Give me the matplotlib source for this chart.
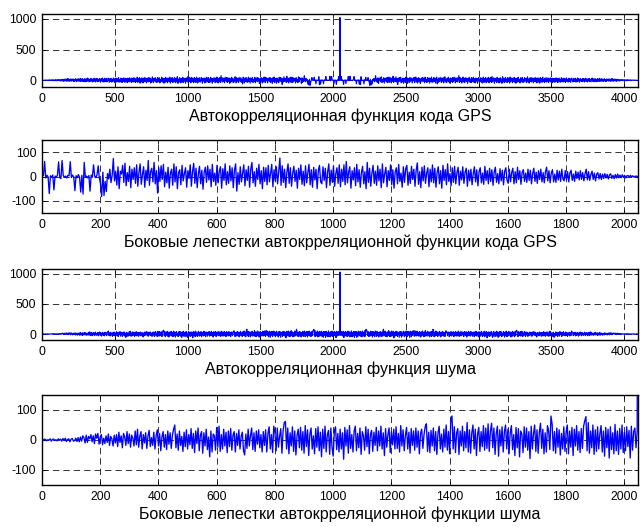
import numpy as np

import matplotlib
matplotlib.use('Agg')
import matplotlib.pyplot as plt

plt.rcParams['font.family'] = ['Liberation Sans', 'DejaVu Sans']
plt.rcParams['axes.unicode_minus'] = False
plt.rcParams['lines.scale_dashes'] = False

# Sidelobes of the GPS code autocorrelation, lags 1..2045 (every 4th lag)
gps_side = [
    4, 3, 62, -6, 5, -2, -70, 3, -4, 6, -55, 2, -3, 5, 60, -5,
    -8, 66, 4, -3, 2, -6, 5, 3, 61, -4, 6, -2, -58, 3, -5, 8,
    -3, -64, 5, -72, 58, -4, 2, -6, 4, -60, 6, -3, 48, 2, -5, 7,
    44, -6, -30, -82, 18, -78, -20, -62, 12, -10, 30, -25, 5, 74, -18, 22,
    -35, 40, -50, 22, 10, 46, -24, 55, -38, 16, -20, 42, -46, 30, -12, 36,
    -28, 48, -40, 18, 52, -32, 8, 40, -44, 26, -16, 66, -36, 20, 34, -22,
    58, -30, 24, -68, 36, -20, 44, -12, 50, -42, 18, -26, 38, -48, 14, 30,
    -36, 52, -22, 40, -50, 16, 28, -34, 46, -18, 12, 36, -44, 24, -8, 48,
    -40, 20, 54, -28, 34, -46, 10, 42, -30, 26, -52, 18, 38, -24, 44, -14,
    30, -42, 50, -20, 14, -36, 46, -26, 22, 40, -48, 32, -16, 52, -34, 20,
    -28, 44, -18, 36, -46, 26, 52, -60, 16, -32, 40, -22, 12, 48, -38, 28,
    -16, 42, -44, 30, 58, -26, 20, -40, 34, -12, 50, -30, 24, -50, 38, -20,
    36, -34, 46, -22, 12, 50, -42, 28, -18, 40, -30, 20, 76, -36, 44, -24,
    30, -46, 18, 52, -28, 36, -40, 14, 42, -20, 26, -48, 34, -12, 48, -32,
    22, -38, 44, -26, 16, 50, -34, 28, -44, 38, -14, 30, -50, 24, 46, -22,
    -30, 40, -16, 34, -46, 20, 52, -36, 26, -24, 44, -40, 12, 36, -28, 48,
    -42, 30, -20, 48, -34, 62, -26, 18, 40, -48, 24, -14, 36, -38, 50, -22,
    28, -44, 16, 42, -30, 20, -50, 58, -24, 34, -40, 14, 46, -28, 22, -36,
    44, -18, 30, -46, 52, -26, 12, 38, -42, 24, -16, 48, -34, 28, -48, 20,
    36, -30, 50, -20, 14, -44, 40, -24, 32, 46, -36, 18, -28, 42, -12, 30,
    -40, 26, 56, -32, 20, -46, 38, -18, 44, -28, 14, 36, -42, 30, -22, 48,
    -26, 34, -44, 18, 40, -30, 24, -48, 46, -16, 28, -34, 52, -20, 12, -38,
    36, -24, 42, -30, 16, 38, -36, 22, -14, 40, -28, 18, 34, -40, 26, -18,
    30, -34, 12, 40, -22, 28, -38, 20, 36, -26, 14, -32, 42, -16, 24, -30,
    34, -20, 28, -36, 18, 38, -24, 12, -30, 32, -18, 26, -34, 22, 36, -14,
    -28, 30, -22, 16, 34, -30, 20, -26, 38, -12, 24, -32, 18, 28, -20, 14,
    -24, 30, -16, 26, -30, 12, 34, -20, 18, -28, 24, -12, 30, -22, 16, -26,
    20, 38, -18, 24, -26, 14, 28, -22, 10, -24, 26, -14, 22, -20, 30, -10,
    -18, 24, -12, 20, -22, 14, 26, -16, 10, -20, 22, -8, 18, -14, 24, -12,
    16, -18, 12, 30, -14, 20, -16, 8, 22, -12, 14, -18, 10, 16, -10, 12,
    -12, 10, -8, 12, -6, 9, -10, 7, 11, -8, 5, -9, 8, -6, 10, -5,
    6, -5, 7, -4, 5, -6, 3, 4, -3, 5, -2, 3, -2, 1, 2, 0,
]
gps_peak = 1023

# Sidelobes of the noise autocorrelation, lags -2048..-4 (every 4th lag)
noise_side = [
    1, -2, 3, 2, -3, 1, -1, 4, -4, 2, 3, -2, 1, -3, 4, -1,
    3, -4, 5, -2, 6, -5, 2, 4, -6, 3, 5, -4, -2, 6, -5, 8,
    -6, 10, -4, 14, 8, -10, 16, -8, 12, 4, 18, -6, 14, -12, 20, 6,
    22, -14, 10, 18, -16, 6, -12, 14, -8, 20, -18, 12, 4, -20, 16, -10,
    18, -22, 26, -8, 14, -26, 22, 10, -18, 28, -12, 20, -24, 16, 6, -20,
    30, -16, 36, -24, 12, 28, -30, 18, -10, 24, -28, 14, 32, -22, 8, -18,
    26, -30, 14, 34, -20, 22, -36, 10, 28, -24, 18, -32, 30, -14, 24, -28,
    16, 36, 50, -26, 20, -34, 30, -18, 12, -38, 26, -22, 34, -30, 18, -16,
    38, -28, 22, -42, 30, -12, 40, -36, 16, 28, -44, 24, -20, 36, -32, 10,
    -56, 30, -40, 20, 14, -34, 42, -24, 46, -38, 18, -30, 36, -20, 26, -42,
    30, -22, 38, -34, 16, 28, -40, 22, -18, 34, -30, 12, 26, -36, -50, 20,
    -28, 36, -20, 14, 40, -32, 24, -38, 30, -14, 34, -26, 18, -40, 28, -18,
    34, -40, 22, 44, -30, 18, -42, 46, 26, -36, 40, -24, 12, 38, -44, 30,
    58, 62, -30, 40, -46, 24, -20, 44, -38, 30, -50, 16, 36, -26, 42, -34,
    28, -44, 48, -22, 34, -52, 20, 40, -30, 14, -46, 38, -24, 44, -36, 26,
    -56, 36, -28, 46, -40, 18, 32, -48, 40, -24, -54, 30, 44, -32, 22, -40,
    36, -30, 24, -64, 42, -20, 34, -44, 48, -28, 18, -40, 30, 46, -36, 22,
    -26, 40, -48, 28, 14, -34, 44, -22, 36, -46, 20, 32, -38, 26, -18, 42,
    -36, 30, -20, 46, -30, 24, -52, 38, -24, 18, 40, -42, 28, -16, 36, -30,
    44, -28, 22, -40, 48, -20, 34, -36, 16, 42, -30, 26, -44, 38, -18, 30,
    -34, 40, -24, 30, -46, 22, 36, -28, 18, 44, 54, -38, 26, -42, 32, -20,
    40, -36, 28, -48, 24, 46, -30, 20, -40, 36, -24, 50, -34, 28, -46, 66,
    80, -30, 44, -42, 24, 38, -48, 30, -20, 46, -36, 28, -26, 58, -40, 34,
    -44, 24, 50, -30, 36, -52, 20, 42, -38, 28, -22, 48, -34, 40, -28, 54,
    -38, 30, 56, -26, 40, -48, 22, 46, -54, 34, -20, 44, -40, 28, 50, -30,
    36, -46, 24, 48, -32, 18, -52, 42, -26, 38, -56, 30, 20, -42, 44, -24,
    40, -34, 28, -62, 46, -30, 22, 50, -38, 34, -44, 26, 56, -28, 36, -46,
    24, -40, 48, 30, -32, 80, 52, -36, 28, -44, 40, -24, 34, -50, 22, -30,
    44, -38, 26, 50, -46, 30, -24, 42, -52, 36, -20, 48, -34, 28, -42, 38,
    -28, 46, 64, 78, -36, 58, -44, 30, -26, 50, -48, 34, -38, 44, -30, 22,
    48, -40, 30, -54, 42, -26, 36, -60, 44, -32, 24, -46, 52, -36, 30, -48,
    38, -30, 50, -42, 26, -36, 44, -22, 32, -60, 46, -34, 28, 40, -26, 30,
]
noise_peak = 1030

titles = [
    'Автокорреляционная функция кода GPS',
    'Боковые лепестки автокрреляционной функции кода GPS',
    'Автокорреляционная функция шума',
    'Боковые лепестки автокрреляционной функции шума',
]

N = 2048
center = N - 1
step = 4


def style_ax(ax, xlim, ylim, xticks, yticks, title):
    ax.set_xlim(*xlim)
    ax.set_ylim(*ylim)
    ax.set_xticks(xticks)
    ax.set_yticks(yticks)
    ax.grid(True, color='0.2', lw=0.7, linestyle=(0, (4.6, 2.9)))
    ax.set_axisbelow(True)
    ax.tick_params(direction='in', top=True, right=True, length=3,
                   width=0.6, labelsize=8.8, pad=4)
    for s in ax.spines.values():
        s.set_linewidth(1.0)
    ax.set_xlabel(title, fontsize=11.5, labelpad=3)


def plot_all():
    g = np.array(gps_side, dtype=float)
    n = np.array(noise_side, dtype=float)
    lags = np.arange(1, N, step)
    pos = np.arange(0, N, step)

    fig = plt.figure(figsize=(6.43, 5.27), dpi=100)
    left, width = 0.0653, 0.927
    ax1 = fig.add_axes([left, 0.8349, width, 0.1385])
    ax2 = fig.add_axes([left, 0.5958, width, 0.1385])
    ax3 = fig.add_axes([left, 0.3548, width, 0.1347])
    ax4 = fig.add_axes([left, 0.0797, width, 0.1708])

    # full GPS autocorrelation (symmetric around the peak)
    x1 = np.concatenate([center - lags[::-1], [center], center + lags])
    y1 = np.concatenate([g[::-1], [gps_peak], g])
    ax1.plot(x1, y1, color='#0000ff', lw=0.8)
    style_ax(ax1, (0, 4095), (-110, 1080), np.arange(0, 4001, 500),
             [0, 500, 1000], titles[0])

    # GPS sidelobes, right half
    x2 = np.concatenate([[0], lags])
    y2 = np.concatenate([[gps_peak], g])
    ax2.plot(x2, y2, color='#0000ff', lw=0.95)
    style_ax(ax2, (0, 2047), (-150, 150), np.arange(0, 2001, 200),
             [-100, 0, 100], titles[1])

    # full noise autocorrelation
    x3 = np.concatenate([pos, [center], 2 * center - pos[::-1]])
    y3 = np.concatenate([n, [noise_peak], n[::-1]])
    ax3.plot(x3, y3, color='#0000ff', lw=0.8)
    style_ax(ax3, (0, 4095), (-100, 1080), np.arange(0, 4001, 500),
             [0, 500, 1000], titles[2])

    # noise sidelobes, left half
    x4 = np.concatenate([pos, [center]])
    y4 = np.concatenate([n, [noise_peak]])
    ax4.plot(x4, y4, color='#0000ff', lw=0.95)
    style_ax(ax4, (0, 2047), (-150, 150), np.arange(0, 2001, 200),
             [-100, 0, 100], titles[3])

    fig.savefig('out.png', dpi=100, facecolor='white')


plot_all()
